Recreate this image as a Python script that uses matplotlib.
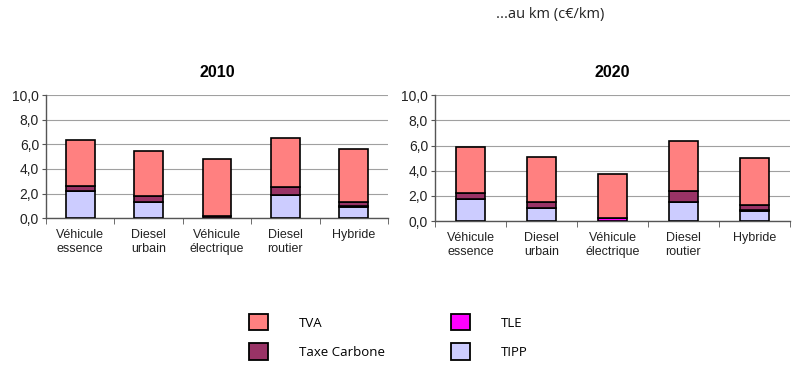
import matplotlib.pyplot as plt
from matplotlib.patches import Patch
from matplotlib.ticker import FuncFormatter

# Catégories et valeurs (c€/km)
categories = ['Véhicule\nessence', 'Diesel\nurbain', 'Véhicule\nélectrique', 'Diesel\nroutier', 'Hybride']
series = ['TIPP', 'TLE', 'Taxe Carbone', 'TVA']

tipp_2010 = [2.2, 1.35, 0.0, 1.9, 0.9]
tle_2010 = [0.0, 0.0, 0.0, 0.0, 0.12]
carbone_2010 = [0.45, 0.45, 0.2, 0.6, 0.33]
tva_2010 = [3.7, 3.65, 4.6, 4.05, 4.27]

tipp_2020 = [1.78, 1.08, 0.0, 1.54, 0.8]
tle_2020 = [0.0, 0.0, 0.25, 0.0, 0.12]
carbone_2020 = [0.48, 0.45, 0.0, 0.85, 0.38]
tva_2020 = [3.59, 3.59, 3.52, 3.97, 3.7]

colors = {'TVA': '#ff8080', 'Taxe Carbone': '#993366', 'TLE': '#ff00ff', 'TIPP': '#ccccff'}

plt.rcParams['font.family'] = ['Liberation Sans', 'DejaVu Sans']

fig = plt.figure(figsize=(8, 3.71), dpi=100)


def draw_panel(ax, title, data, width):
    x = list(range(len(categories)))
    bottom = [0.0] * len(categories)
    for name, vals in zip(series, data):
        ax.bar(x, vals, width=width, bottom=bottom, color=colors[name],
               edgecolor='black', linewidth=1.2, zorder=3)
        bottom = [b + v for b, v in zip(bottom, vals)]
    ax.set_ylim(0, 10)
    ax.set_xlim(-0.5, len(categories) - 0.5)
    ax.set_yticks([0, 2, 4, 6, 8, 10])
    ax.yaxis.set_major_formatter(FuncFormatter(lambda v, p: f'{v:.1f}'.replace('.', ',')))
    ax.grid(axis='y', color='#a0a0a0', linewidth=0.8, zorder=0)
    ax.set_xticks(x)
    ax.set_xticklabels(categories, fontsize=9, color='#222222', linespacing=1.15)
    ax.set_xticks([i - 0.5 for i in range(len(categories) + 1)], minor=True)
    ax.tick_params(axis='x', which='major', length=0, pad=8)
    ax.tick_params(axis='x', which='minor', length=4, color='#555555', direction='out')
    ax.tick_params(axis='y', length=3, color='#555555', labelsize=10, pad=2, labelcolor='#222222')
    for s in ['top', 'right']:
        ax.spines[s].set_visible(False)
    for s in ['left', 'bottom']:
        ax.spines[s].set_color('#555555')
        ax.spines[s].set_linewidth(1.0)
    ax.set_title(title, fontsize=11.5, fontweight='bold', pad=13)


ax1 = fig.add_axes([0.0575, 0.412, 0.4275, 0.3315])
draw_panel(ax1, '2010', [tipp_2010, tle_2010, carbone_2010, tva_2010], 0.42)

ax2 = fig.add_axes([0.5437, 0.404, 0.4437, 0.3396])
draw_panel(ax2, '2020', [tipp_2020, tle_2020, carbone_2020, tva_2020], 0.41)

fig.text(0.688, 0.962, '...au km (c€/km)', ha='center', va='center', fontsize=10.5,
         family=['Open Sans', 'DejaVu Sans'], color='#222222')

# Légende
handles = [Patch(facecolor=colors[n], edgecolor='black', linewidth=1.3) for n in ['TVA', 'Taxe Carbone', 'TLE', 'TIPP']]
leg = fig.legend(handles, ['TVA', 'Taxe Carbone', 'TLE', 'TIPP'], ncol=2, loc='center',
                 bbox_to_anchor=(0.485, 0.092), frameon=False, handlelength=1.5, handleheight=1.5,
                 handletextpad=2.3, columnspacing=5.0, labelspacing=1.0,
                 prop={'family': ['Open Sans', 'DejaVu Sans'], 'size': 9.5})

fig.savefig('out.png', dpi=100)
